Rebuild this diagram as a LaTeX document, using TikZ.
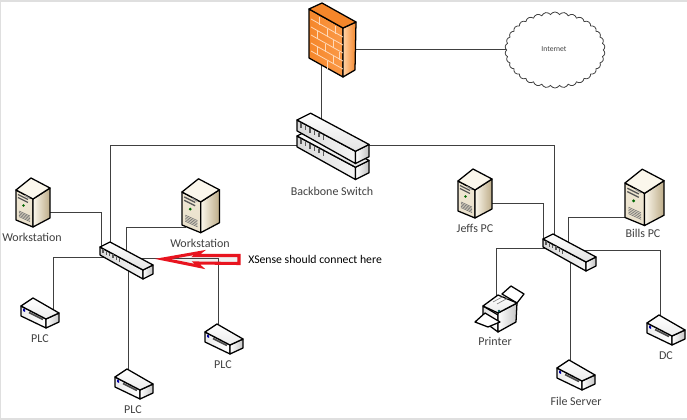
\documentclass[tikz,border=0pt]{standalone}
\usepackage{fontspec}
\setmainfont{Carlito}
\usetikzlibrary{shapes.symbols}
\definecolor{linecol}{HTML}{404040}
\definecolor{labelcol}{HTML}{404040}
\definecolor{creamA}{HTML}{FBF7EC}
\definecolor{creamB}{HTML}{E9E0CB}
\definecolor{creamC}{HTML}{F0E8D4}
\definecolor{tanA}{HTML}{BDAC88}
\definecolor{fwA}{HTML}{F5862A}
\definecolor{fwB}{HTML}{FB9A48}
\definecolor{fwC}{HTML}{FFD2A6}
\definecolor{fwBrick}{HTML}{FFD9B8}
\definecolor{redarrow}{HTML}{E8141F}
\tikzset{
  wire/.style={draw=linecol,line width=0.72pt},
  edge/.style={draw=black,line width=0.95pt,line join=round},
  lbl/.style={text=labelcol,font=\fontsize{9}{11}\selectfont,inner sep=0pt},
  note/.style={text=black,font=\fontsize{8.8}{11}\selectfont,inner sep=0pt},
  swtop/.style={edge,top color=white,bottom color=gray!22},
  swfront/.style={edge,left color=gray!30,right color=gray!8},
  swend/.style={edge,left color=white,right color=gray!50},
  switchicon/.pic={
    \path[swfront] (0,0)--(43,23)--(43,32)--(0,8)--cycle;
    \path[swend] (43,23)--(53,18)--(53,27)--(43,32)--cycle;
    \path[swtop] (0,0)--(10,-5)--(53,18)--(43,23)--cycle;
    \foreach \k in {0,1,2,3,4,5}
      \draw[line width=.9pt,draw=black!65] ({3+3.3*\k},{2.2+1.76*\k})--({3+3.3*\k},{5.8+1.76*\k});
  },
  deviceicon/.pic={
    \path[edge,left color=gray!15,right color=white] (0,0)--(25,13)--(25,22)--(0,10)--cycle;
    \path[edge,left color=white,right color=gray!45] (25,13)--(38,7)--(38,16)--(25,22)--cycle;
    \path[edge,top color=white,bottom color=gray!15] (0,0)--(12,-8)--(38,7)--(25,13)--cycle;
    \fill[blue!65!black] (2,2.5)--(4,3.5)--(4,6)--(2,5)--cycle;
    \draw[line width=1.2pt,draw=black!70] (8,6.5)--(22,13.5);
  },
  servericon/.pic={
    \path[edge,top color=creamC,bottom color=creamB] (0,0)--(17,9)--(17,37)--(0,30)--cycle;
    \path[edge,left color=creamA,right color=tanA] (17,9)--(34,-2)--(34,28)--(17,37)--cycle;
    \path[edge,fill=creamA] (0,0)--(15,-12)--(34,-2)--(17,9)--cycle;
    \draw[line width=1pt,draw=black!65] (2,4.5)--(12,9.5);
    \draw[line width=1pt,draw=black!65] (2,7.5)--(12,12.5);
    \draw[line width=.8pt,draw=black!45] (9,5.5)--(14,8.5);
    \fill[green!40!black] (7.5,15.5) circle (1.4);
    \foreach \k in {0,1,2,3,4}
      \draw[line width=.45pt,draw=black!55] (3,{21+1.4*\k})--(14,{26+1.4*\k});
  },
  printericon/.pic={
    \path[edge,fill=white] (19,-12)--(28,-20)--(41,-12)--(34,-3)--cycle;
    \path[edge,left color=gray!25,right color=white] (0,0)--(15,9)--(15,26)--(0,15)--cycle;
    \path[edge,left color=white,right color=gray!45] (15,7)--(34,-3)--(33,16)--(15,26)--cycle;
    \path[edge,top color=white,bottom color=gray!15] (0,0)--(15,-11)--(34,-3)--(15,7)--cycle;
    \draw[line width=.5pt,draw=black!50] (10,-4)--(21,-10) (14,-2)--(25,-8);
    \fill[teal!60!black] (16,5) circle (1.3);
    \path[edge,fill=white] (-8,16)--(2,7)--(17,16)--(5,21)--cycle;
  },
  firewallicon/.pic={
    \path[edge,left color=fwA,right color=fwB] (0,0)--(34,19)--(34,68)--(0,49)--cycle;
    \path[edge,left color=fwC,right color=fwA] (34,19)--(47,13)--(46,61)--(34,68)--cycle;
    \path[edge,fill=fwA] (0,0)--(13,-6)--(47,13)--(34,19)--cycle;
    \foreach \k in {1,2,3,4,5}
      \draw[line width=.6pt,draw=fwBrick] (2,{2+\k*8})--(34,{20+\k*8});
    \foreach \k/\a/\b in {0/10/26,1/18/18,2/8/24,3/16/30,4/8/24,5/18/18}
      \foreach \x in {\a,\b}
        \draw[line width=.6pt,draw=fwBrick] (\x,{2+\k*8+\x*.56})--(\x,{2+(\k+1)*8+\x*.56});
  }
}
\begin{document}
\begin{tikzpicture}[x=0.75pt,y=-0.75pt]
\useasboundingbox (0,0) rectangle (687,420);
\fill[white] (0,0) rectangle (687,420);
\fill[gray!25] (0,0) rectangle (687,2);
\fill[gray!25] (0,0) rectangle (1,420);
\fill[gray!25] (0,418) rectangle (687,420);

% ports
\coordinate (fwBot) at (321,60);
\coordinate (fwR) at (350,49);
\coordinate (bbT) at (321,122);
\coordinate (bbL) at (300,145);
\coordinate (bbR) at (365,145);
\coordinate (swLtop) at (110,246);
\coordinate (swLa) at (101,250);
\coordinate (swLb) at (126,258);
\coordinate (swLc) at (104,257);
\coordinate (swLd) at (128,270);
\coordinate (swLe) at (140,258);
\coordinate (swRtop) at (554,236);
\coordinate (swRa) at (543,243);
\coordinate (swRb) at (568,250);
\coordinate (swRc) at (547,248);
\coordinate (swRd) at (570,260);
\coordinate (swRe) at (582,250);
\coordinate (wsAp) at (46,212);
\coordinate (wsBp) at (186,227);
\coordinate (jeffp) at (488,203);
\coordinate (billp) at (630,217);
\coordinate (plcAp) at (53,310);
\coordinate (plcBp) at (128,372);
\coordinate (plcCp) at (218,327);
\coordinate (prnp) at (496,298);
\coordinate (fsp) at (570,363);
\coordinate (dcp) at (660,318);

% arrow interior
\fill[gray!12] (240,255)--(240,264)--(197,263.5)--(200,267)--(160,259)--(200,252)--(197,255)--cycle;

% cloud
\node[cloud,draw=black!75,line width=.6pt,fill=white,cloud puffs=34,cloud puff arc=120,aspect=1.3,
      minimum width=75pt,minimum height=57pt,inner sep=0pt] (internet) at (555,50) {};
\node[inner sep=0pt,text=labelcol,font=\fontsize{5.7}{7}\selectfont] (internetlabel) at (554,49) {Internet};

% connectors
\draw[wire] (fwBot) -- (bbT);
\draw[wire] (fwR) -- (fwR -| internet.west);
\draw[wire] (bbL) -| (swLtop);
\draw[wire] (bbR) -| (swRtop);
\draw[wire] (wsAp) -| (swLa);
\draw[wire] (wsBp) -| (swLb);
\draw[wire] (swLc) -| (plcAp);
\draw[wire] (swLd) -- (plcBp);
\draw[wire] (swLe) -| (plcCp);
\draw[wire] (jeffp) -| (swRa);
\draw[wire] (billp) -| (swRb);
\draw[wire] (swRc) -| (prnp);
\draw[wire] (swRd) -- (fsp);
\draw[wire] (swRe) -| (dcp);

% icons
\pic (firewall) at (309,9) {firewallicon};
\pic[scale=1.36] (bbLow) at (297,136) {switchicon};
\pic[scale=1.36] (bbUp) at (297,120) {switchicon};
\pic (swLeft) at (100,247) {switchicon};
\pic (swRight) at (543,239) {switchicon};
\pic (wsA) at (16,190) {servericon};
\pic[scale=1.1] (wsB) at (182,192) {servericon};
\pic (jeff) at (458,181) {servericon};
\pic[scale=1.15] (bill) at (625,183) {servericon};
\pic (plcA) at (21,306) {deviceicon};
\pic (plcB) at (115,377) {deviceicon};
\pic (plcC) at (205,332) {deviceicon};
\pic (fileserver) at (557,368) {deviceicon};
\pic (dc) at (647,323) {deviceicon};
\pic (printer) at (483,306) {printericon};

% red arrow
\draw[draw=redarrow,line width=2.3pt,line join=miter] (239,255.5)--(239,263.5)--(196,263)--(200,266.5)--(163,259)--(200,252.5)--(196,255.5)--cycle;

% labels
\node[lbl] (lbBackbone) at (332,191) {Backbone Switch};
\node[lbl] (lbWsA) at (32,237) {Workstation};
\node[lbl] (lbWsB) at (200,243) {Workstation};
\node[lbl] (lbPlcA) at (40,339) {PLC};
\node[lbl] (lbPlcB) at (133,410) {PLC};
\node[lbl] (lbPlcC) at (223,365) {PLC};
\node[lbl] (lbJeff) at (475,228) {Jeffs PC};
\node[lbl] (lbBill) at (643,233) {Bills PC};
\node[lbl] (lbPrinter) at (495,341) {Printer};
\node[lbl] (lbFile) at (576,401) {File Server};
\node[lbl] (lbDc) at (666,356) {DC};
\node[note,anchor=west] (lbNote) at (248,259) {XSense should connect here};
\end{tikzpicture}
\end{document}
